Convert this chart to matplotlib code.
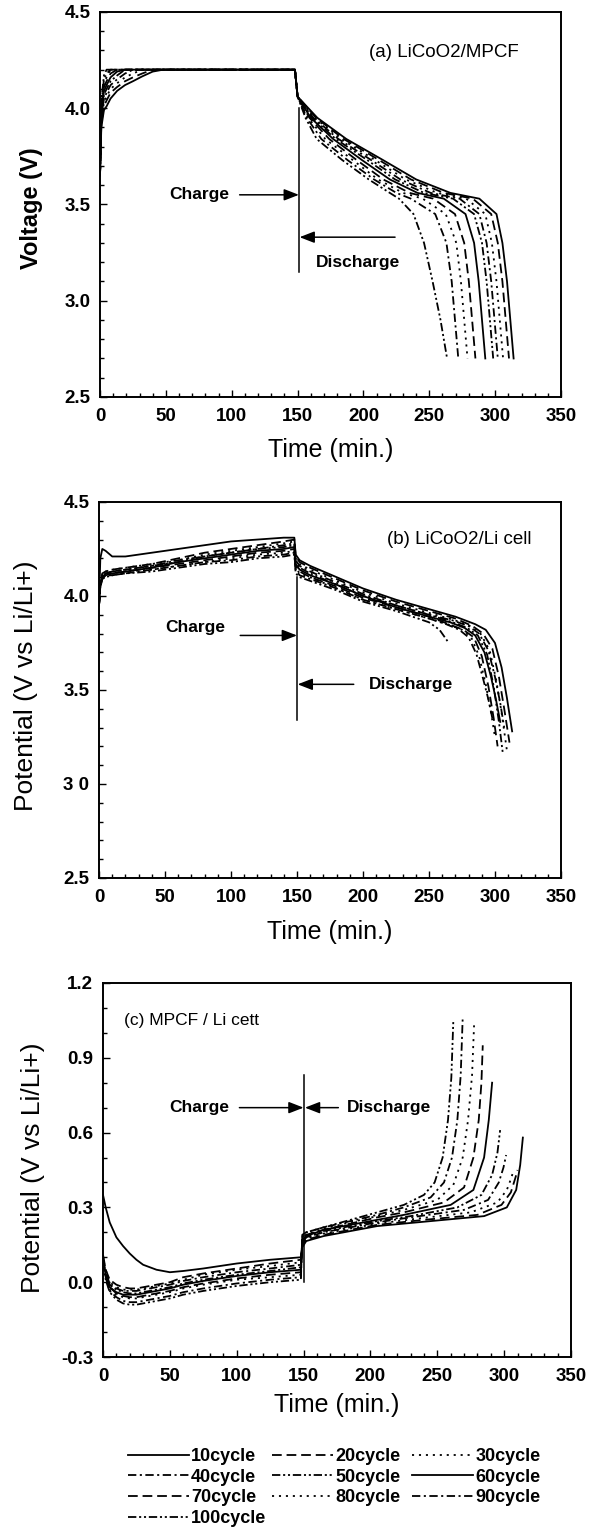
import matplotlib
matplotlib.use("Agg")
import matplotlib.pyplot as plt
from matplotlib.ticker import MultipleLocator

plt.rcParams['font.family'] = ['Liberation Sans', 'DejaVu Sans']
plt.rcParams['lines.scale_dashes'] = False

cycles = [10, 20, 30, 40, 50, 60, 70, 80, 90, 100]
labels = ['%dcycle' % c for c in cycles]

# (a) LiCoO2/MPCF  -- charge part on a shared time grid
a_chg_t = [0, 1, 3, 5, 8, 13, 19, 25, 32, 40, 48, 148]
a_chg_v = [
    [3.65, 3.90, 3.99, 4.01, 4.05, 4.09, 4.12, 4.14, 4.165, 4.19, 4.20, 4.20],
    [3.65, 3.92, 4.01, 4.04, 4.08, 4.11, 4.14, 4.16, 4.18, 4.20, 4.20, 4.20],
    [3.65, 3.94, 4.03, 4.06, 4.10, 4.13, 4.16, 4.18, 4.20, 4.20, 4.20, 4.20],
    [3.65, 3.95, 4.05, 4.08, 4.12, 4.15, 4.18, 4.20, 4.20, 4.20, 4.20, 4.20],
    [3.65, 3.96, 4.07, 4.10, 4.14, 4.17, 4.20, 4.20, 4.20, 4.20, 4.20, 4.20],
    [3.65, 3.97, 4.09, 4.12, 4.16, 4.19, 4.20, 4.20, 4.20, 4.20, 4.20, 4.20],
    [3.65, 3.98, 4.11, 4.14, 4.18, 4.20, 4.20, 4.20, 4.20, 4.20, 4.20, 4.20],
    [3.65, 4.00, 4.13, 4.16, 4.20, 4.20, 4.20, 4.20, 4.20, 4.20, 4.20, 4.20],
    [3.65, 4.02, 4.15, 4.18, 4.20, 4.20, 4.20, 4.20, 4.20, 4.20, 4.20, 4.20],
    [3.65, 4.04, 4.17, 4.20, 4.20, 4.20, 4.20, 4.20, 4.20, 4.20, 4.20, 4.20],
]
# discharge part: times at which each voltage level is reached
a_dis_v = [4.06, 3.95, 3.84, 3.73, 3.63, 3.56, 3.53, 3.45, 3.30, 3.10, 2.90, 2.70]
a_dis_t = [
    [150, 165, 187, 215, 240, 266, 288, 301, 305.5, 309, 311.5, 314],
    [150, 164, 185, 212, 236, 261, 283, 297, 302, 305.5, 308, 310.5],
    [150, 163, 183, 209, 232, 256, 278, 292.5, 297.5, 301, 303.5, 306],
    [150, 162, 181, 206, 228, 251, 273, 288, 293.5, 297, 299.5, 302],
    [150, 161, 179, 203, 224, 246, 268, 284, 290, 293.5, 296, 298.5],
    [150, 160, 177, 199, 220, 241, 261, 277.5, 284, 287.5, 290, 292.5],
    [150, 159, 174, 195, 215, 235, 253, 269.5, 276.5, 280, 282.5, 285],
    [150, 158, 171, 192, 211, 230, 245, 262.5, 270.5, 274, 276.5, 279],
    [150, 157, 168, 188, 208, 225, 236, 254.5, 263, 267, 269.5, 272],
    [150, 156, 164.5, 184, 204, 220, 227, 238, 246, 252.5, 258.5, 263.5],
]

# (b) LiCoO2/Li cell
b_chg_t = [0, 1, 2.5, 5, 10, 20, 40, 60, 80, 100, 120, 140, 148]
b_chg_v = [
    [3.95, 4.20, 4.25, 4.24, 4.21, 4.21, 4.23, 4.25, 4.27, 4.29, 4.30, 4.31, 4.31],
    [3.95, 4.08, 4.12, 4.13, 4.14, 4.15, 4.17, 4.20, 4.23, 4.25, 4.27, 4.29, 4.30],
    [3.95, 4.07, 4.11, 4.13, 4.14, 4.15, 4.17, 4.19, 4.22, 4.24, 4.26, 4.28, 4.29],
    [3.95, 4.07, 4.11, 4.12, 4.13, 4.14, 4.16, 4.19, 4.21, 4.23, 4.25, 4.27, 4.28],
    [3.95, 4.06, 4.10, 4.12, 4.13, 4.14, 4.16, 4.18, 4.21, 4.23, 4.25, 4.26, 4.27],
    [3.95, 4.06, 4.10, 4.12, 4.12, 4.13, 4.15, 4.18, 4.20, 4.22, 4.24, 4.25, 4.26],
    [3.95, 4.06, 4.10, 4.11, 4.12, 4.13, 4.15, 4.17, 4.19, 4.21, 4.23, 4.24, 4.25],
    [3.95, 4.05, 4.09, 4.11, 4.12, 4.13, 4.14, 4.16, 4.18, 4.20, 4.22, 4.23, 4.24],
    [3.95, 4.05, 4.09, 4.11, 4.11, 4.12, 4.14, 4.16, 4.18, 4.19, 4.21, 4.22, 4.23],
    [3.95, 4.05, 4.09, 4.10, 4.11, 4.12, 4.13, 4.15, 4.17, 4.18, 4.20, 4.21, 4.22],
]
b_dis_t = [
    [149, 152, 160, 180, 200, 225, 250, 270, 285, 293, 300, 305, 309, 313],
    [149, 152, 160, 180, 200, 225, 250, 270, 283, 291, 298, 303, 307, 311],
    [149, 152, 160, 180, 200, 225, 250, 270, 281, 289, 296, 301, 305, 309],
    [149, 152, 160, 180, 200, 225, 250, 268, 280, 288, 295, 300, 304, 307],
    [149, 152, 160, 180, 200, 225, 250, 268, 279, 287, 294, 299, 303, 306],
    [149, 152, 160, 180, 200, 225, 250, 266, 277, 285, 292, 297, 301, 304],
    [149, 152, 160, 180, 200, 225, 250, 265, 276, 284, 290, 295, 299, 302],
    [149, 152, 160, 180, 200, 225, 250, 264, 275, 282, 288, 293, 297, 300],
    [149, 152, 160, 180, 200, 225, 250, 263, 273, 280, 286, 291, 295, 298],
    [149, 152, 160, 180, 200, 225, 250, 258, 264],
]
b_dis_v = [
    [4.22, 4.19, 4.16, 4.10, 4.04, 3.98, 3.93, 3.89, 3.85, 3.82, 3.75, 3.62, 3.46, 3.28],
    [4.21, 4.18, 4.15, 4.09, 4.03, 3.97, 3.92, 3.88, 3.84, 3.80, 3.72, 3.57, 3.40, 3.22],
    [4.20, 4.17, 4.14, 4.08, 4.02, 3.96, 3.91, 3.87, 3.84, 3.80, 3.71, 3.55, 3.38, 3.18],
    [4.19, 4.16, 4.13, 4.07, 4.01, 3.95, 3.90, 3.87, 3.84, 3.80, 3.71, 3.57, 3.43, 3.30],
    [4.18, 4.15, 4.12, 4.06, 4.00, 3.95, 3.90, 3.86, 3.83, 3.79, 3.69, 3.52, 3.33, 3.16],
    [4.17, 4.14, 4.11, 4.06, 4.00, 3.94, 3.89, 3.86, 3.83, 3.79, 3.70, 3.57, 3.44, 3.33],
    [4.16, 4.13, 4.10, 4.05, 3.99, 3.94, 3.89, 3.85, 3.82, 3.78, 3.68, 3.52, 3.35, 3.20],
    [4.15, 4.12, 4.10, 4.04, 3.98, 3.93, 3.88, 3.85, 3.82, 3.78, 3.68, 3.53, 3.38, 3.25],
    [4.14, 4.11, 4.09, 4.04, 3.98, 3.93, 3.88, 3.85, 3.82, 3.78, 3.69, 3.56, 3.45, 3.35],
    [4.12, 4.10, 4.08, 4.03, 3.97, 3.92, 3.86, 3.82, 3.76],
]

# (c) MPCF / Li cell
c_chg_t = [0, 2, 5, 10, 15, 20, 25, 30, 40, 50, 60, 75, 100, 125, 148]
c_chg_v = [
    [0.35, 0.30, 0.24, 0.18, 0.145, 0.115, 0.09, 0.07, 0.05, 0.04, 0.045, 0.055, 0.075, 0.09, 0.10],
    [0.11, 0.05, 0.01, -0.01, -0.02, -0.025, -0.025, -0.02, -0.01, 0.00, 0.02, 0.035, 0.055, 0.075, 0.09],
    [0.10, 0.05, 0.00, -0.02, -0.03, -0.03, -0.03, -0.025, -0.015, -0.005, 0.01, 0.03, 0.05, 0.065, 0.08],
    [0.10, 0.04, -0.01, -0.025, -0.035, -0.035, -0.035, -0.03, -0.02, -0.01, 0.005, 0.02, 0.04, 0.055, 0.07],
    [0.09, 0.04, -0.01, -0.03, -0.04, -0.045, -0.045, -0.04, -0.03, -0.02, -0.005, 0.01, 0.03, 0.045, 0.06],
    [0.09, 0.03, -0.02, -0.04, -0.05, -0.05, -0.05, -0.045, -0.035, -0.025, -0.01, 0.005, 0.025, 0.04, 0.05],
    [0.09, 0.03, -0.02, -0.045, -0.055, -0.06, -0.06, -0.055, -0.045, -0.035, -0.02, -0.005, 0.015, 0.03, 0.04],
    [0.08, 0.02, -0.03, -0.05, -0.06, -0.065, -0.065, -0.06, -0.05, -0.04, -0.025, -0.01, 0.01, 0.02, 0.03],
    [0.08, 0.02, -0.035, -0.06, -0.075, -0.08, -0.08, -0.075, -0.065, -0.055, -0.04, -0.025, -0.005, 0.01, 0.02],
    [0.08, 0.01, -0.04, -0.07, -0.085, -0.09, -0.09, -0.085, -0.075, -0.065, -0.05, -0.035, -0.015, 0.0, 0.01],
]
c_dis_t = [
    [149, 152, 165, 185, 205, 245, 285, 302, 309, 312, 314],
    [149, 152, 165, 185, 205, 240, 280, 298, 305, 308.5, 310],
    [149, 152, 165, 185, 205, 235, 275, 295, 302, 305.5, 307],
    [149, 152, 165, 185, 205, 230, 270, 288, 296, 299.5, 301.5],
    [149, 152, 165, 185, 205, 230, 265, 283, 291, 295, 297],
    [149, 152, 165, 185, 205, 225, 260, 277, 285, 288.5, 291],
    [149, 152, 165, 185, 205, 225, 255, 270, 277, 281, 283, 284],
    [149, 152, 165, 185, 205, 225, 250, 262, 269, 273, 276, 277.5],
    [149, 152, 165, 185, 205, 225, 245, 255, 261, 265, 267.5, 269],
    [149, 152, 165, 185, 205, 225, 240, 248, 254, 258, 260.5, 262],
]
c_dis_v = [
    [0.14, 0.165, 0.185, 0.205, 0.225, 0.245, 0.265, 0.30, 0.37, 0.47, 0.58],
    [0.15, 0.17, 0.19, 0.21, 0.23, 0.25, 0.27, 0.31, 0.36, 0.42, 0.45],
    [0.15, 0.175, 0.195, 0.215, 0.235, 0.255, 0.28, 0.32, 0.37, 0.42, 0.45],
    [0.16, 0.18, 0.20, 0.22, 0.24, 0.26, 0.29, 0.33, 0.40, 0.46, 0.51],
    [0.16, 0.18, 0.205, 0.225, 0.245, 0.265, 0.30, 0.35, 0.43, 0.52, 0.61],
    [0.17, 0.185, 0.21, 0.23, 0.25, 0.27, 0.31, 0.37, 0.50, 0.65, 0.80],
    [0.17, 0.19, 0.21, 0.235, 0.26, 0.28, 0.32, 0.38, 0.50, 0.65, 0.80, 0.95],
    [0.18, 0.19, 0.215, 0.24, 0.265, 0.29, 0.33, 0.39, 0.50, 0.65, 0.83, 1.03],
    [0.18, 0.20, 0.22, 0.245, 0.27, 0.30, 0.34, 0.40, 0.50, 0.65, 0.83, 1.06],
    [0.19, 0.20, 0.22, 0.25, 0.28, 0.31, 0.35, 0.40, 0.50, 0.65, 0.82, 1.05],
]

styles = ['-', (0, (7, 3.5)), (0, (1.5, 3.5)), (0, (6, 2.5, 1.5, 2.5)),
          (0, (6, 2, 1.5, 2, 1.5, 2)), '-', (0, (7, 3.5)), (0, (1.5, 3.5)),
          (0, (6, 2.5, 1.5, 2.5)), (0, (6, 2, 1.5, 2, 1.5, 2))]
LW = 1.3
TICKFONT = dict(fontsize=13.5, fontweight='bold')
XT = list(range(0, 351, 50))


def style_axes(ax, ymin, ymax, ymaj, ymin_step):
    ax.set_xlim(0, 350)
    ax.set_ylim(ymin, ymax)
    ax.xaxis.set_major_locator(MultipleLocator(50))
    ax.xaxis.set_minor_locator(MultipleLocator(10))
    ax.yaxis.set_major_locator(MultipleLocator(ymaj))
    ax.yaxis.set_minor_locator(MultipleLocator(ymin_step))
    ax.tick_params(which='both', direction='in', top=False, right=False, width=1)
    ax.tick_params(which='major', length=5)
    ax.tick_params(which='minor', length=3)
    ax.tick_params(axis='x', pad=8)
    ax.tick_params(axis='y', pad=7)
    for s in ax.spines.values():
        s.set_linewidth(1.4)


def arrow(ax, x0, x1, y):
    ax.annotate('', xy=(x1, y), xytext=(x0, y),
                arrowprops=dict(arrowstyle='-|>,head_length=0.9,head_width=0.35',
                                color='black', lw=1.1, shrinkA=0, shrinkB=0))


fig = plt.figure(figsize=(5.9, 15.28), dpi=100)

# ---------- (a)
ax = fig.add_axes([0.1695, 0.7402, 0.7814, 0.2520])
for i in range(10):
    t = a_chg_t + a_dis_t[i]
    v = a_chg_v[i] + a_dis_v
    ax.plot(t, v, color='black', lw=LW, linestyle=styles[i])
style_axes(ax, 2.5, 4.5, 0.5, 0.1)
ax.set_yticks([2.5, 3.0, 3.5, 4.0, 4.5])
ax.set_yticklabels(['2.5', '3.0', '3.5', '4.0', '4.5'], **TICKFONT)
ax.set_xticks(XT)
ax.set_xticklabels([str(x) for x in XT], **TICKFONT)
ax.plot([151, 151], [3.15, 4.0], color='black', lw=1.1)
arrow(ax, 106, 151, 3.55)
arrow(ax, 224, 151.5, 3.33)
ax.text(75, 3.55, 'Charge', ha='center', va='center', fontsize=12.5, fontweight='bold')
ax.text(196, 3.20, 'Discharge', ha='center', va='center', fontsize=12.5, fontweight='bold')
ax.text(318, 4.29, '(a) LiCoO2/MPCF', ha='right', va='center', fontsize=13.5)
ax.set_ylabel('Voltage (V)', fontsize=17, fontweight='bold')
ax.yaxis.set_label_coords(-0.124, 0.49)
ax.set_xlabel('Time (min.)', fontsize=18)
ax.xaxis.set_label_coords(0.5, -0.106)

# ---------- (b)
ax = fig.add_axes([0.1678, 0.4254, 0.7830, 0.2461])
for i in range(10):
    t = b_chg_t + b_dis_t[i]
    v = b_chg_v[i] + b_dis_v[i]
    ax.plot(t, v, color='black', lw=LW, linestyle=styles[i])
style_axes(ax, 2.5, 4.5, 0.5, 0.1)
ax.set_yticks([2.5, 3.0, 3.5, 4.0, 4.5])
ax.set_yticklabels(['2.5', '3 0', '3.5', '4.0', '4.5'], **TICKFONT)
ax.set_xticks(XT)
ax.set_xticklabels([str(x) for x in XT], **TICKFONT)
ax.plot([150, 150], [3.34, 4.1], color='black', lw=1.1)
arrow(ax, 107, 150, 3.79)
arrow(ax, 193, 150.5, 3.53)
ax.text(73, 3.83, 'Charge', ha='center', va='center', fontsize=12.5, fontweight='bold')
ax.text(236, 3.53, 'Discharge', ha='center', va='center', fontsize=12.5, fontweight='bold')
ax.text(328, 4.30, '(b) LiCoO2/Li cell', ha='right', va='center', fontsize=13.5)
ax.set_ylabel('Potential (V vs Li/Li+)', fontsize=19)
ax.yaxis.set_label_coords(-0.132, 0.51)
ax.set_xlabel('Time (min.)', fontsize=18)
ax.xaxis.set_label_coords(0.5, -0.112)

# ---------- (c)
ax = fig.add_axes([0.1746, 0.1119, 0.7932, 0.2448])
for i in range(10):
    t = c_chg_t + c_dis_t[i]
    v = c_chg_v[i] + c_dis_v[i]
    ax.plot(t, v, color='black', lw=LW, linestyle=styles[i], label=labels[i])
style_axes(ax, -0.3, 1.2, 0.3, 0.1)
ax.set_yticks([-0.3, 0.0, 0.3, 0.6, 0.9, 1.2])
ax.set_yticklabels(['-0.3', '0.0', '0.3', '0.6', '0.9', '1.2'], **TICKFONT)
ax.set_xticks(XT)
ax.set_xticklabels([str(x) for x in XT], **TICKFONT)
ax.plot([150.3, 150.3], [0.0, 0.83], color='black', lw=1.1)
arrow(ax, 102, 150, 0.70)
arrow(ax, 176, 151, 0.70)
ax.text(72, 0.70, 'Charge', ha='center', va='center', fontsize=12.5, fontweight='bold')
ax.text(182.5, 0.70, 'Discharge', ha='left', va='center', fontsize=12.5, fontweight='bold')
ax.text(16, 1.05, '(c) MPCF / Li cett', ha='left', va='center', fontsize=12.5)
ax.set_ylabel('Potential (V vs Li/Li+)', fontsize=19)
ax.yaxis.set_label_coords(-0.124, 0.505)
ax.set_xlabel('Time (min.)', fontsize=18)
ax.xaxis.set_label_coords(0.5, -0.096)

# legend: one column block at a time, filled row by row as in the figure
h, l = ax.get_legend_handles_labels()
col_items = [[0, 3, 6, 9], [1, 4, 7], [2, 5, 8]]
col_x = [128, 272, 412]
for items, x in zip(col_items, col_x):
    fig.legend([h[k] for k in items], [l[k] for k in items], ncol=1,
               loc='upper left', bbox_to_anchor=(x / 590, 1 - 1448 / 1528),
               frameon=False, borderaxespad=0, borderpad=0,
               handlelength=3.4, handletextpad=0.1,
               labelspacing=0.2, prop=dict(size=13, weight='bold'))

fig.savefig('out.png', dpi=100)
